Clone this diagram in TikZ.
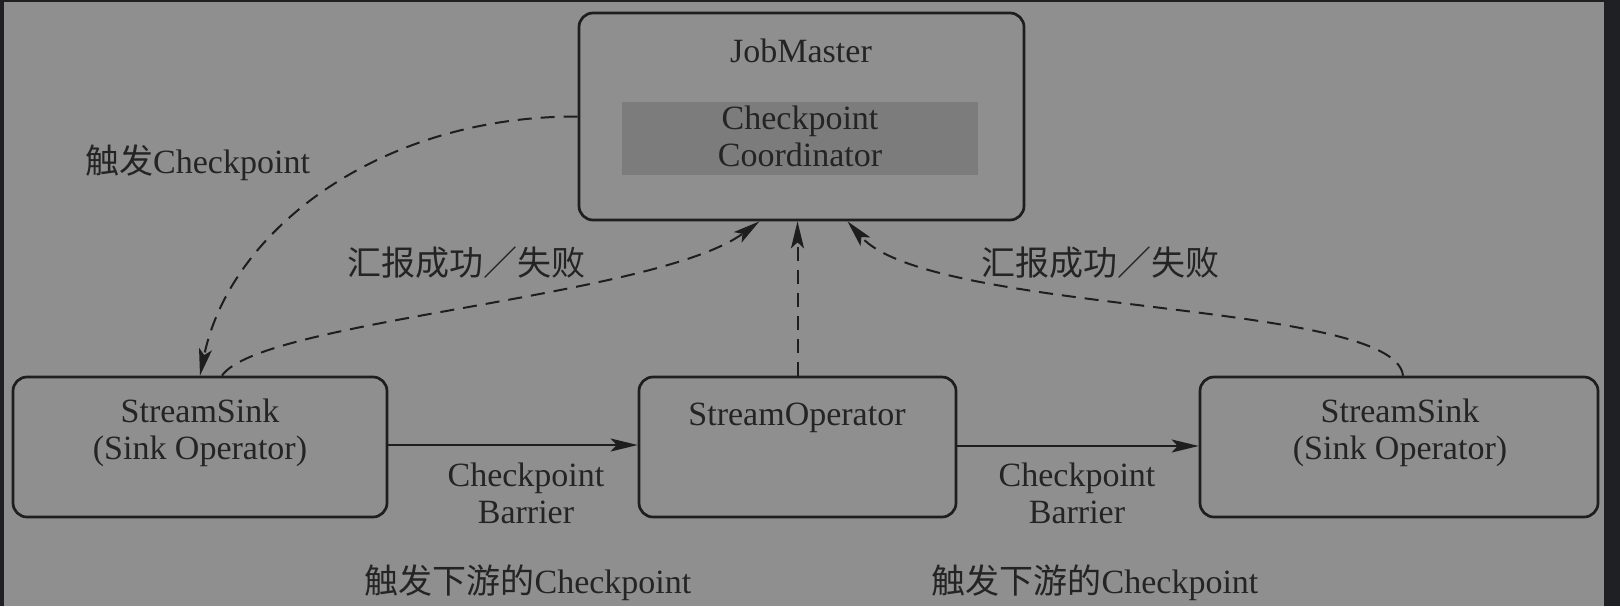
\documentclass[tikz,border=0pt]{standalone}
\usepackage{fontspec}
\setmainfont{Liberation Serif}
\newfontfamily\cjk{Noto Sans CJK SC}
\usetikzlibrary{arrows.meta}
\definecolor{bgdark}{HTML}{1F2023}
\definecolor{bggray}{HTML}{8F8F8F}
\definecolor{coordfill}{HTML}{7C7C7C}
\definecolor{ink}{HTML}{1E1E1E}
\definecolor{txt}{HTML}{242424}
\tikzset{
  boxnode/.style={draw=ink, line width=2.7pt, rounded corners=14pt, inner sep=0pt},
  coordbox/.style={fill=coordfill, draw=none, inner sep=0pt},
  lbl/.style={text=txt, font=\fontsize{34}{37}\selectfont, inner sep=0pt, align=center, anchor=base},
  tip/.style={-{Stealth[length=27pt,width=13pt,inset=6pt]}},
  solidconn/.style={tip, draw=ink, line width=2pt},
  dashconn/.style={tip, draw=ink, line width=2pt, dash pattern=on 14pt off 9pt}
}
\begin{document}
\begin{tikzpicture}[x=1pt,y=-1pt]
\useasboundingbox (0,0) rectangle (1620,606);
\fill[bgdark] (0,0) rectangle (1620,606);
\fill[bggray] (4,2) rectangle (1604,606);

% boxes
\node[boxnode, minimum width=445pt, minimum height=207pt] (jm) at (801.5,116.5) {};
\node[coordbox, minimum width=356pt, minimum height=73pt] (coord) at (800,138.5) {};
\node[boxnode, minimum width=374pt, minimum height=140pt] (lsink) at (200,447) {};
\node[boxnode, minimum width=317pt, minimum height=140pt] (op) at (797.5,447) {};
\node[boxnode, minimum width=398pt, minimum height=140pt] (rsink) at (1399,447) {};

% texts (multi-line nodes: base = baseline of last line)
\node[lbl] (jmtext) at (801,62) {JobMaster};
\node[lbl] (coordtext) at (800,166) {Checkpoint\\Coordinator};
\node[lbl] (lsinktext) at (200,459) {StreamSink\\(Sink Operator)};
\node[lbl] (optext) at (797,425) {StreamOperator};
\node[lbl] (rsinktext) at (1400,459) {StreamSink\\(Sink Operator)};
\node[lbl] (bar1) at (526,523) {Checkpoint\\Barrier};
\node[lbl] (bar2) at (1077,523) {Checkpoint\\Barrier};
\node[lbl, anchor=base west] (trig) at (85,173) {{\cjk 触发}Checkpoint};
\node[lbl] (rep1) at (466,275) {{\cjk 汇报成功／失败}};
\node[lbl] (rep2) at (1100,275) {{\cjk 汇报成功／失败}};
\node[lbl] (down1) at (528,593) {{\cjk 触发下游的}Checkpoint};
\node[lbl] (down2) at (1095,593) {{\cjk 触发下游的}Checkpoint};

% connectors
\draw[solidconn] ([yshift=2pt]lsink.east) -- ([yshift=2pt]op.west);
\draw[solidconn] ([yshift=1pt]op.east) -- ([yshift=1pt]rsink.west);
\draw[dashconn] (jm.west) .. controls (380,116) and (230,230) .. (lsink.north);
\draw[dashconn] ([xshift=22pt]lsink.north) .. controls (260,320) and (655,298) .. ([xshift=-42pt]jm.south);
\draw[dashconn] (op.north) -- (op.north |- jm.south);
\draw[dashconn] ([xshift=4pt]rsink.north) .. controls (1395,300) and (930,315) .. ([xshift=46pt]jm.south);
\end{tikzpicture}
\end{document}
